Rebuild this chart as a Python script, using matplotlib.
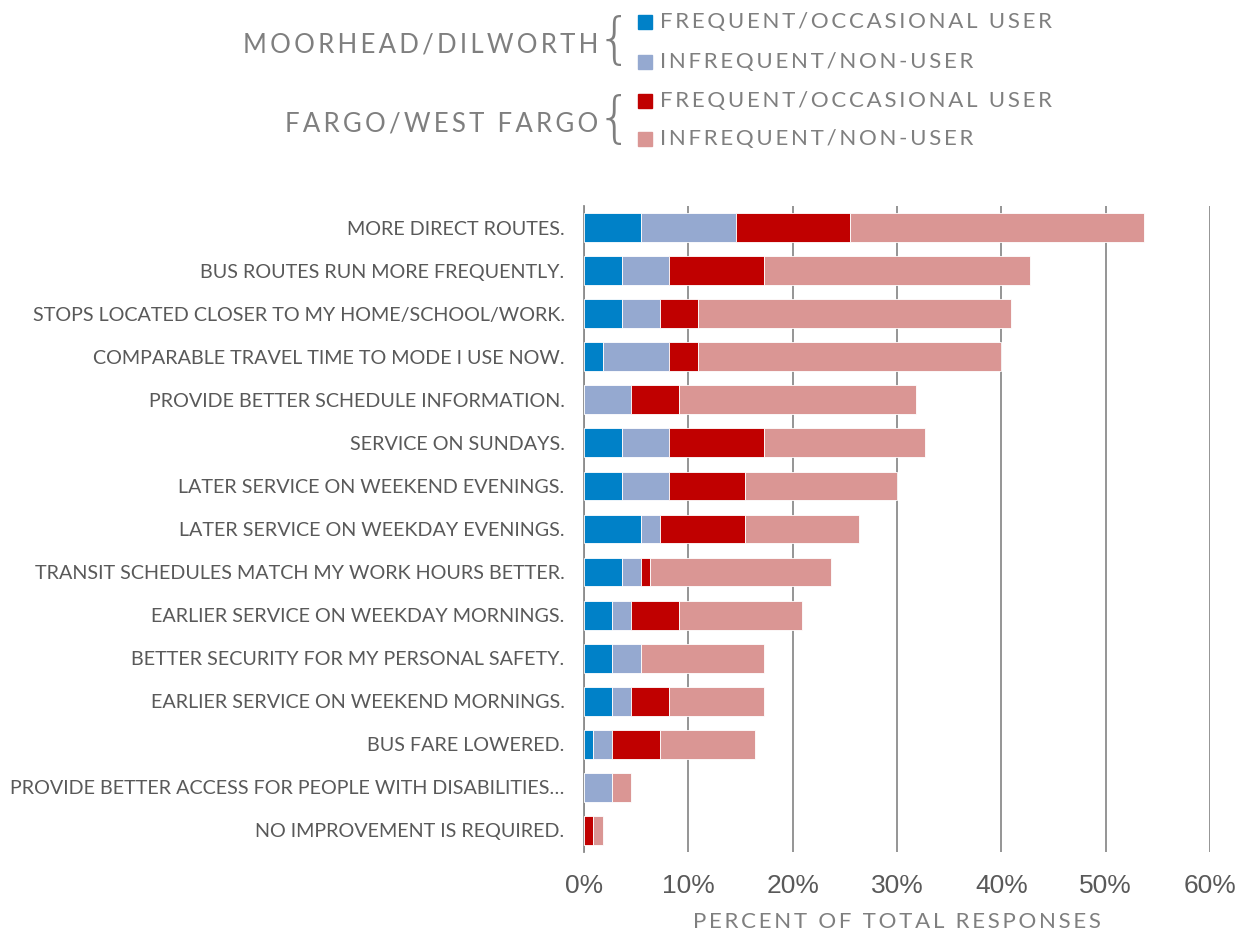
import matplotlib.pyplot as plt
from matplotlib.patches import Rectangle

# survey answers, top row first
categories = [
    "MORE DIRECT ROUTES.",
    "BUS ROUTES RUN MORE FREQUENTLY.",
    "STOPS LOCATED CLOSER TO MY HOME/SCHOOL/WORK.",
    "COMPARABLE TRAVEL TIME TO MODE I USE NOW.",
    "PROVIDE BETTER SCHEDULE INFORMATION.",
    "SERVICE ON SUNDAYS.",
    "LATER SERVICE ON WEEKEND EVENINGS.",
    "LATER SERVICE ON WEEKDAY EVENINGS.",
    "TRANSIT SCHEDULES MATCH MY WORK HOURS BETTER.",
    "EARLIER SERVICE ON WEEKDAY MORNINGS.",
    "BETTER SECURITY FOR MY PERSONAL SAFETY.",
    "EARLIER SERVICE ON WEEKEND MORNINGS.",
    "BUS FARE LOWERED.",
    "PROVIDE BETTER ACCESS FOR PEOPLE WITH DISABILITIES\u2026",
    "NO IMPROVEMENT IS REQUIRED.",
]

# percent of total responses
md_frequent = [5.45, 3.64, 3.64, 1.82, 0, 3.64, 3.64, 5.45, 3.64, 2.73, 2.73, 2.73, 0.91, 0, 0]
md_infrequent = [9.09, 4.55, 3.64, 6.36, 4.55, 4.55, 4.55, 1.82, 1.82, 1.82, 2.73, 1.82, 1.82, 2.73, 0]
fg_frequent = [10.91, 9.09, 3.64, 2.73, 4.55, 9.09, 7.27, 8.18, 0.91, 4.55, 0, 3.64, 4.55, 0, 0.91]
fg_infrequent = [28.18, 25.45, 30.0, 29.09, 22.73, 15.45, 14.55, 10.91, 17.27, 11.82, 11.82, 9.09, 9.09, 1.82, 0.91]

series_labels = ["FREQUENT/OCCASIONAL USER", "INFREQUENT/NON-USER",
                 "FREQUENT/OCCASIONAL USER", "INFREQUENT/NON-USER"]
group_labels = ["MOORHEAD/DILWORTH", "FARGO/WEST FARGO"]
x_ticks = [0, 10, 20, 30, 40, 50, 60]

colors = ['#0081C8', '#95A9D0', '#C00000', '#DA9694']
gray = '#7f7f7f'

plt.rcParams['font.family'] = ['Lato', 'DejaVu Sans']


def spaced(s):
    # wide tracking for the caption-style labels
    return '\u2009'.join(s)


W, H = 1241, 932
fig = plt.figure(figsize=(W / 100, H / 100), dpi=100)
ax = fig.add_axes([584 / W, 1 - 852 / H, (1210 - 584) / W, (852 - 206) / H])

rows = range(len(categories))
left = [0] * len(categories)
for vals, c in zip([md_frequent, md_infrequent, fg_frequent, fg_infrequent], colors):
    ax.barh(rows, vals, left=left, height=0.67, color=c,
            edgecolor='white', linewidth=0.6, zorder=3)
    left = [a + b for a, b in zip(left, vals)]

ax.set_xlim(0, 60)
ax.set_ylim(len(categories) - 0.5, -0.5)
ax.set_yticks(list(rows))
ax.set_yticklabels(categories, fontsize=14.2, color='#595959')
ax.set_xticks(x_ticks)
ax.set_xticklabels([f'{v}%' for v in x_ticks], fontsize=19, color='#595959',
                   family=['Liberation Sans'])
ax.tick_params(axis='y', length=0, pad=14)
ax.tick_params(axis='x', length=0, pad=16)
ax.grid(axis='x', color='#8c8c8c', linewidth=1.3, zorder=0)
ax.set_axisbelow(True)
for side in ['top', 'right', 'bottom']:
    ax.spines[side].set_visible(False)
ax.spines['left'].set_color('#8c8c8c')
ax.spines['left'].set_linewidth(1.3)

ax.set_xlabel(spaced("PERCENT OF TOTAL RESPONSES"), fontsize=16, color=gray, labelpad=10)

# grouped legend drawn in figure pixels
square_y = [22, 62, 101, 139]
for yy, c, lab in zip(square_y, colors, series_labels):
    fig.add_artist(Rectangle((638 / W, 1 - (yy + 7) / H), 14 / W, 14 / H,
                             transform=fig.transFigure, color=c))
    fig.text(660 / W, 1 - yy / H, spaced(lab), fontsize=16, color=gray,
             ha='left', va='center')

for yy, lab in zip([45, 124], group_labels):
    fig.text(598 / W, 1 - yy / H, spaced(lab), fontsize=18.5, color=gray,
             ha='right', va='center')
    fig.text(614 / W, 1 - (yy - 3) / H, '{', fontsize=40, color=gray,
             ha='center', va='center', family=['DejaVu Sans'], fontweight='light')

fig.savefig('out.png', dpi=100)
